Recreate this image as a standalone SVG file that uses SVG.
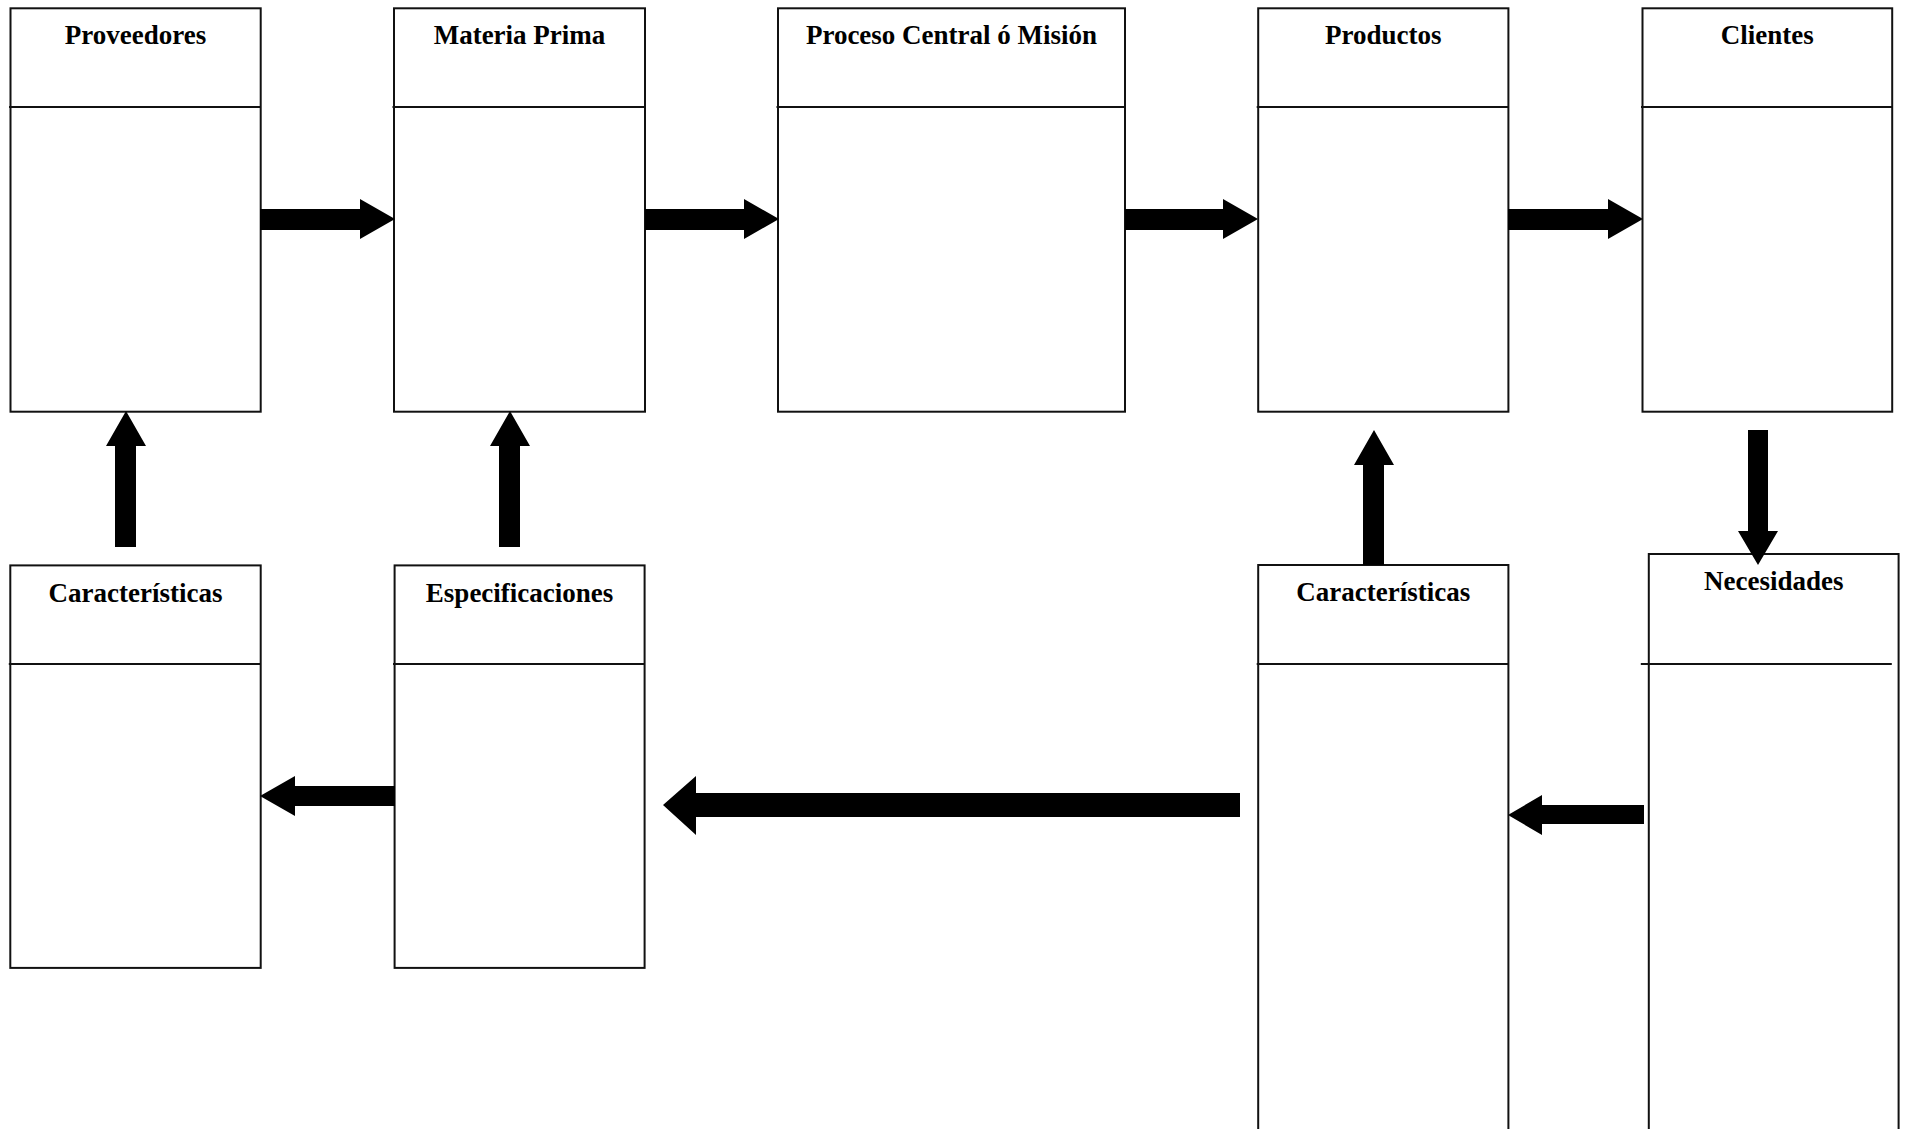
<svg xmlns="http://www.w3.org/2000/svg" width="1905" height="1129" viewBox="0 0 1905 1129">
<style>
.box{fill:#fff;stroke:#111;stroke-width:2}
.div{stroke:#111;stroke-width:2}
.lbl{font-family:"Liberation Serif","Times New Roman",serif;font-weight:bold;font-size:27px;fill:#000;text-anchor:middle}
.arrow{fill:#000}
</style>
<rect width="1905" height="1129" fill="#fff"/>
<g id="node-proveedores">
<rect class="box" x="10.5" y="8.3" width="250.2" height="403.4"/>
<line class="div" x1="9" y1="107" x2="260.7" y2="107"/>
<text class="lbl" x="135.6" y="44">Proveedores</text>
</g>
<g id="node-materia-prima">
<rect class="box" x="394" y="8.3" width="251" height="403.4"/>
<line class="div" x1="392.5" y1="107" x2="645" y2="107"/>
<text class="lbl" x="519.5" y="44">Materia Prima</text>
</g>
<g id="node-proceso">
<rect class="box" x="778" y="8.3" width="347" height="403.4"/>
<line class="div" x1="776.5" y1="107" x2="1125" y2="107"/>
<text class="lbl" x="951.5" y="44">Proceso Central ó Misión</text>
</g>
<g id="node-productos">
<rect class="box" x="1258.2" y="8.3" width="250.2" height="403.4"/>
<line class="div" x1="1256.7" y1="107" x2="1508.4" y2="107"/>
<text class="lbl" x="1383.3" y="44">Productos</text>
</g>
<g id="node-clientes">
<rect class="box" x="1642.5" y="8.3" width="249.7" height="403.4"/>
<line class="div" x1="1641" y1="107" x2="1892.2" y2="107"/>
<text class="lbl" x="1767.3" y="44">Clientes</text>
</g>
<g id="node-caracteristicas-izq">
<rect class="box" x="10.3" y="565.4" width="250.4" height="402.5"/>
<line class="div" x1="8.8" y1="664" x2="260.7" y2="664"/>
<text class="lbl" x="135.5" y="601.6">Características</text>
</g>
<g id="node-especificaciones">
<rect class="box" x="394.6" y="565.4" width="250" height="402.5"/>
<line class="div" x1="393" y1="664" x2="644.6" y2="664"/>
<text class="lbl" x="519.6" y="601.6">Especificaciones</text>
</g>
<g id="node-caracteristicas-der">
<rect class="box" x="1258.2" y="565" width="250.2" height="600"/>
<line class="div" x1="1256.7" y1="664" x2="1508.4" y2="664"/>
<text class="lbl" x="1383.3" y="600.8">Características</text>
</g>
<g id="node-necesidades">
<rect class="box" x="1648.8" y="554" width="249.8" height="600"/>
<line class="div" x1="1640.8" y1="664" x2="1891.8" y2="664"/>
<text class="lbl" x="1773.7" y="589.7">Necesidades</text>
</g>
<g id="connectors">
<polygon class="arrow" points="260,209 360,209 360,199 395,219 360,239 360,230 260,230"/>
<polygon class="arrow" points="645,209 744,209 744,199 779,219 744,239 744,230 645,230"/>
<polygon class="arrow" points="1125,209 1223,209 1223,199 1258,219 1223,239 1223,230 1125,230"/>
<polygon class="arrow" points="1508,209 1608,209 1608,199 1643,219 1608,239 1608,230 1508,230"/>
<polygon class="arrow" points="115,547 115,446 106,446 126,411 146,446 136,446 136,547"/>
<polygon class="arrow" points="499,547 499,446 490,446 510,411 530,446 520,446 520,547"/>
<polygon class="arrow" points="395,786 295,786 295,776 260,796 295,816 295,806 395,806"/>
<polygon class="arrow" points="1240,793 696,793 696,776 663,805 696,835 696,817 1240,817"/>
<polygon class="arrow" points="1363,565 1363,465 1354,465 1374,430 1394,465 1384,465 1384,565"/>
<polygon class="arrow" points="1748,430 1768,430 1768,531 1778,531 1758,565 1738,531 1748,531"/>
<polygon class="arrow" points="1644,805 1542,805 1542,795 1508,815 1542,835 1542,824 1644,824"/>
</g>
</svg>
